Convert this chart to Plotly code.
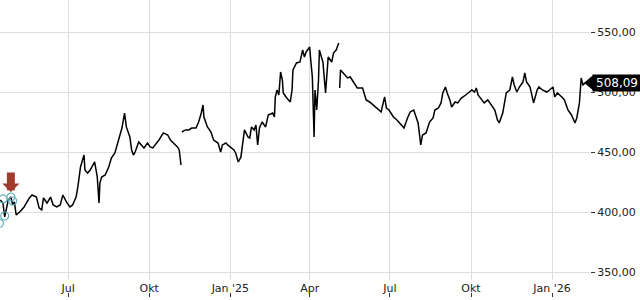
import plotly.graph_objects as go

dates = [
    "2024-04-15", "2024-04-18", "2024-04-20", "2024-04-24", "2024-04-27", "2024-04-29",
    "2024-05-01", "2024-05-03", "2024-05-07", "2024-05-12", "2024-05-18", "2024-05-21",
    "2024-05-26", "2024-05-29", "2024-06-01", "2024-06-03", "2024-06-07", "2024-06-11",
    "2024-06-14", "2024-06-18", "2024-06-22", "2024-06-25", "2024-06-29", "2024-07-03",
    "2024-07-06", "2024-07-10", "2024-07-12", "2024-07-15", "2024-07-19", "2024-07-20",
    "2024-07-23", "2024-07-26", "2024-07-31", "2024-08-01", "2024-08-03", "2024-08-05",
    "2024-08-06", "2024-08-08", "2024-08-12", "2024-08-16", "2024-08-19", "2024-08-23",
    "2024-08-27", "2024-08-31", "2024-09-03", "2024-09-05", "2024-09-09", "2024-09-11",
    "2024-09-13", "2024-09-15", "2024-09-19", "2024-09-22", "2024-09-25", "2024-09-29",
    "2024-10-02", "2024-10-05", "2024-10-08", "2024-10-12", "2024-10-17", "2024-10-22",
    "2024-10-25", "2024-10-29", "2024-11-02", "2024-11-04", "2024-11-06", "2024-11-06 12:00",
    "2024-11-07", "2024-11-11", "2024-11-15", "2024-11-18", "2024-11-23", "2024-11-26",
    "2024-11-29", "2024-12-01", "2024-12-02", "2024-12-06", "2024-12-10", "2024-12-13",
    "2024-12-18", "2024-12-21", "2024-12-23", "2024-12-27", "2024-12-29",
    "2025-01-02", "2025-01-05", "2025-01-07", "2025-01-10", "2025-01-13", "2025-01-15",
    "2025-01-17", "2025-01-21", "2025-01-23", "2025-01-25", "2025-01-28", "2025-01-30",
    "2025-02-01", "2025-02-03", "2025-02-06", "2025-02-10", "2025-02-13", "2025-02-18",
    "2025-02-20", "2025-02-21", "2025-02-23", "2025-02-25", "2025-02-27", "2025-03-01",
    "2025-03-02", "2025-03-06", "2025-03-10", "2025-03-12", "2025-03-13", "2025-03-17",
    "2025-03-21", "2025-03-24", "2025-03-26", "2025-03-28", "2025-04-01", "2025-04-02",
    "2025-04-04", "2025-04-06", "2025-04-07", "2025-04-09", "2025-04-11", "2025-04-12",
    "2025-04-14", "2025-04-16", "2025-04-19", "2025-04-21", "2025-04-22", "2025-04-26",
    "2025-04-28", "2025-05-01", "2025-05-04", "2025-05-04 12:00", "2025-05-05", "2025-05-06",
    "2025-05-09", "2025-05-14", "2025-05-17", "2025-05-21", "2025-05-25", "2025-05-31",
    "2025-06-04", "2025-06-08", "2025-06-12", "2025-06-18", "2025-06-21", "2025-06-25",
    "2025-06-27", "2025-06-30", "2025-07-05", "2025-07-09", "2025-07-12", "2025-07-17",
    "2025-07-21", "2025-07-24", "2025-07-28", "2025-07-30", "2025-08-02", "2025-08-05",
    "2025-08-07", "2025-08-11", "2025-08-15", "2025-08-19", "2025-08-21", "2025-08-25",
    "2025-08-28", "2025-08-30", "2025-09-02", "2025-09-04", "2025-09-07", "2025-09-09",
    "2025-09-13", "2025-09-16", "2025-09-20", "2025-09-25", "2025-09-29", "2025-10-02",
    "2025-10-05", "2025-10-07", "2025-10-09", "2025-10-13", "2025-10-16", "2025-10-20",
    "2025-10-24", "2025-10-28", "2025-10-31", "2025-11-02", "2025-11-06", "2025-11-08",
    "2025-11-10", "2025-11-14", "2025-11-17", "2025-11-19", "2025-11-22", "2025-11-25",
    "2025-11-29", "2025-12-01", "2025-12-03", "2025-12-07", "2025-12-10", "2025-12-11",
    "2025-12-15", "2025-12-17", "2025-12-21", "2025-12-26", "2025-12-29", "2026-01-02",
    "2026-01-04", "2026-01-07", "2026-01-12", "2026-01-15", "2026-01-19", "2026-01-23",
    "2026-01-27", "2026-01-29", "2026-02-01", "2026-02-03", "2026-02-05", "2026-02-08",
]

prices = [
    410.4, 407.9, 396.3, 410.4, 412.9, 406.3,
    408.8, 397.9, 400.4, 404.6, 412.1, 414.6,
    412.9, 403.8, 402.1, 412.1, 407.9, 412.9,
    406.3, 404.6, 406.3, 414.6, 408.8, 404.6,
    406.3, 412.9, 421.3, 437.9, 447.9, 435.4,
    432.9, 435.4, 442.1, 437.1, 429.6, 407.9,
    424.6, 429.6, 431.3, 437.9, 445.4, 449.6,
    460.4, 470.4, 482.9, 471.3, 462.9, 452.1,
    447.9, 450.4, 458.8, 456.3, 453.8, 457.9,
    454.6, 453.8, 456.3, 460.4, 466.3, 464.6,
    460.4, 457.9, 454.6, 452.1, 439.6, None,
    467.1, 468.8, 468.8, 470.4, 470.4, 475.4,
    482.9, 489.6, 479.6, 471.3, 467.1, 460.4,
    457.9, 450.4, 456.3, 457.9, 456.3,
    453.8, 452.1, 449.6, 442.1, 446.3, 456.3,
    468.8, 462.9, 462.1, 471.3, 468.8, 472.9,
    456.3, 470.4, 475.4, 471.3, 481.3, 482.9,
    479.6, 496.3, 502.1, 497.9, 517.1, 510.4,
    499.6, 495.4, 492.1, 502.1, 518.8, 524.6,
    525.4, 535.4, 529.6, 533.8, 537.9, 528.8,
    512.9, 462.9, 502.1, 485.4, 510.4, 535.4,
    531.3, 525.4, 499.6, 524.6, 529.6, 525.4,
    532.9, 535.4, 541.3, None, 503.8, 518.8,
    516.3, 512.1, 512.9, 507.9, 503.8, 503.8,
    493.8, 492.1, 489.6, 485.4, 483.8, 496.3,
    487.1, 485.4, 479.6, 477.1, 474.6, 470.4,
    478.8, 483.8, 485.4, 481.3, 474.6, 456.3,
    464.6, 466.3, 475.4, 478.8, 485.4, 487.1,
    491.3, 499.6, 504.6, 499.6, 493.8, 487.9,
    492.1, 491.3, 495.4, 497.9, 500.4, 502.1,
    500.4, 503.8, 497.9, 493.8, 491.3, 493.8,
    489.6, 485.4, 477.1, 474.6, 482.9, 492.1,
    499.6, 502.1, 512.9, 506.3, 500.4, 504.6,
    508.8, 516.3, 508.8, 504.6, 493.8, 491.3,
    502.1, 504.6, 502.1, 500.4, 502.1, 504.6,
    496.3, 499.6, 496.3, 493.8, 485.4, 481.3,
    474.6, 478.8, 491.3, 512.1, 506.3, 508.09,
]

signal_dates = ["2024-04-14", "2024-04-18", "2024-04-20", "2024-04-27", "2024-04-29"]
signal_prices = [391.0, 411.3, 397.1, 412.9, 409.6]

arrow_date = "2024-04-27"
arrow_price = 417.0

tick_dates = ["2024-07-01", "2024-10-01", "2025-01-01", "2025-04-01",
              "2025-07-01", "2025-10-01", "2026-01-01"]
tick_labels = ["Jul", "Okt", "Jan '25", "Apr", "Jul", "Okt", "Jan '26"]
y_ticks = [350, 400, 450, 500, 550]

x_range = ["2024-04-14 16:00", "2026-02-13"]
y_range = [343.75, 577.08]
y_dom0 = 20 / 300

last_price = prices[-1]
last_label = f"{last_price:.2f}".replace(".", ",")

fig = go.Figure()
fig.add_trace(go.Scatter(
    x=dates, y=prices, mode="lines",
    line=dict(color="#000000", width=1.5),
    connectgaps=False, hoverinfo="skip", showlegend=False,
))
fig.add_trace(go.Scatter(
    x=signal_dates, y=signal_prices, mode="markers",
    marker=dict(symbol="circle-open", size=8, color="#5fb0ba",
                line=dict(width=1.2, color="#5fb0ba")),
    hoverinfo="skip", showlegend=False,
))
# helper trace for bottom tick axis
fig.add_trace(go.Scatter(
    x=[dates[-1]], y=[last_price], xaxis="x2", mode="markers",
    marker=dict(opacity=0), hoverinfo="skip", showlegend=False,
))

fig.add_annotation(
    x=arrow_date, y=arrow_price, xref="x", yref="y", text="",
    showarrow=True, ax=0, ay=-21, arrowhead=1, arrowwidth=8,
    arrowsize=0.36, arrowcolor="#a23a2e", standoff=0,
)

# last-price label
fig.add_annotation(
    x=1, y=last_price, xref="paper", yref="y", xanchor="left", yanchor="middle",
    xshift=2, text=last_label, showarrow=False, bgcolor="#000000",
    font=dict(color="#ffffff", size=12, family="DejaVu Sans"),
    borderpad=1, width=46, align="center",
)
py = y_dom0 + (last_price - y_range[0]) / (y_range[1] - y_range[0]) * (1 - y_dom0)
half = 7.5 / 300
fig.add_shape(
    type="path", xref="paper", yref="paper",
    path=f"M {1 - 6/590},{py} L {1 + 3/590},{py + half} L {1 + 3/590},{py - half} Z",
    fillcolor="#000000", line=dict(width=0), layer="above",
)

fig.update_layout(
    template="none",
    width=640, height=300,
    margin=dict(l=0, r=50, t=0, b=0),
    paper_bgcolor="#ffffff", plot_bgcolor="#ffffff",
    separators=",.",
    font=dict(family="DejaVu Sans", size=11, color="#222222"),
    showlegend=False,
    xaxis=dict(
        type="date", range=x_range, tickmode="array",
        tickvals=tick_dates, ticktext=tick_labels,
        showgrid=True, gridcolor="#dedede", gridwidth=1,
        ticks="", showline=False, zeroline=False, automargin=False,
        tickfont=dict(size=11, color="#222222"),
    ),
    xaxis2=dict(
        type="date", matches="x", overlaying="x", anchor="free", position=0.01,
        side="bottom", tickmode="array", tickvals=tick_dates,
        showticklabels=False, ticks="inside", ticklen=4, tickcolor="#333333",
        showgrid=False, showline=False, zeroline=False, automargin=False,
    ),
    yaxis=dict(
        side="right", range=y_range, domain=[y_dom0, 1],
        tickmode="array", tickvals=y_ticks, tickformat=".2f",
        showgrid=True, gridcolor="#dedede", gridwidth=1,
        ticks="outside", ticklen=4, tickcolor="#333333",
        showline=False, zeroline=False, automargin=False,
        tickfont=dict(size=11, color="#222222"),
    ),
)

fig.write_html("out.html")
